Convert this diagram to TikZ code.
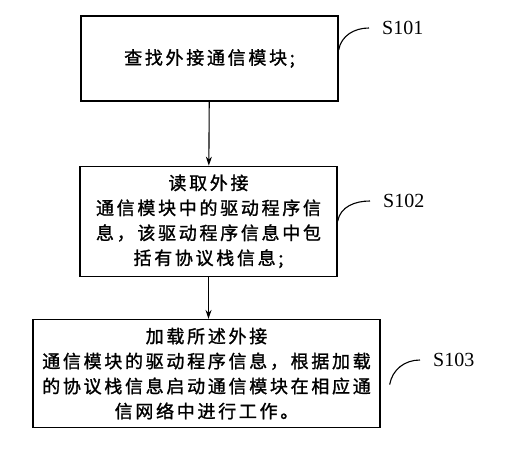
\documentclass[tikz,border=0pt]{standalone}
\usepackage{fontspec}
\setmainfont{Liberation Serif}
\newfontfamily\cjk[LetterSpace=15, FakeBold=1.3]{Noto Sans CJK SC}
\usetikzlibrary{positioning, arrows.meta}

\begin{document}
\begin{tikzpicture}[
    x=1pt, y=1pt,
    % Define step box style
    stepbox/.style={rectangle, draw, line width=1.3pt, align=center, inner sep=0pt,
        font=\cjk\fontsize{18pt}{25pt}\selectfont},
    % Define arrow style
    arrow/.style={-{Stealth[length=9pt, width=6pt]}, line width=1.1pt},
    % Step number labels
    steplabel/.style={anchor=west, inner xsep=13pt, inner ysep=0pt,
        font=\fontsize{20pt}{22pt}\selectfont},
    tag/.style={line width=1.1pt, out=80, in=180}
]
    \useasboundingbox (0,0) rectangle (505,450);

    % Nodes (steps)
    \node[stepbox, minimum width=257pt, minimum height=85pt] (find) at (209.5,391.5) {查找外接通信模块;};
    \node[stepbox, minimum width=257pt, minimum height=110pt, below=64pt of find, xshift=-1pt] (read)
        {读取外接\\通信模块中的驱动程序信\\息，该驱动程序信息中包\\括有协议栈信息;};
    \node[stepbox, minimum width=347pt, minimum height=108pt, below=42pt of read, xshift=-2pt] (load)
        {加载所述外接\\通信模块的驱动程序信息，根据加载\\的协议栈信息启动通信模块在相应通\\信网络中进行工作。};

    % Step labels
    \node[steplabel] (s101) at (369,422) {S101};
    \node[steplabel] (s102) at (370,249) {S102};
    \node[steplabel] (s103) at (420,90) {S103};

    % Arrows
    \draw[arrow] (find) -- (read);
    \draw[arrow] (read.south) -- (read.south |- load.north);

    % Label leaders
    \draw[tag] ([yshift=8.5pt]find.east) to (s101.west);
    \draw[tag] (read.east) to (s102.west);
    \draw[tag] ([xshift=9pt, yshift=-11pt]load.east) to (s103.west);

\end{tikzpicture}
\end{document}
